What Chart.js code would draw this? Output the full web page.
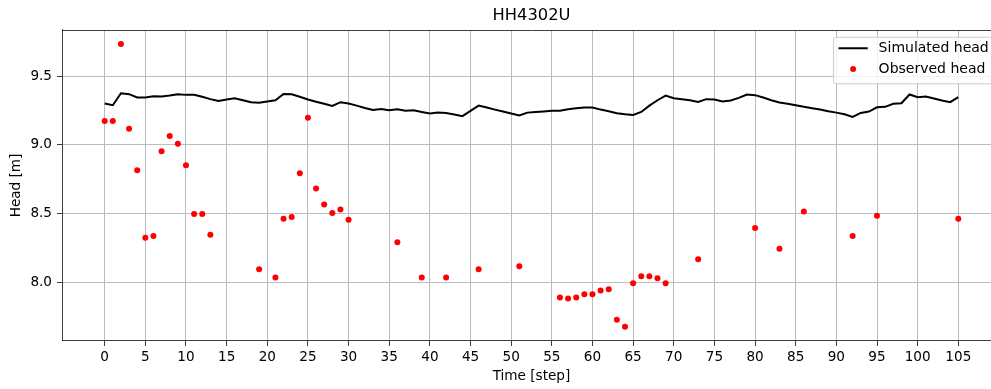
<!DOCTYPE html>
<html>
<head>
<meta charset="utf-8">
<title>HH4302U</title>
<script src="https://cdn.jsdelivr.net/npm/chart.js@4.4.1/dist/chart.umd.min.js"></script>
<style>
  html, body { margin: 0; padding: 0; background: #fff; overflow: hidden; }
  #wrap { width: 991px; height: 389px; overflow: hidden; }
  canvas { display: block; }
</style>
</head>
<body>
<div id="wrap"><canvas id="headChart" width="1005" height="389"></canvas></div>
<script>
// simulated head at every time step
const simSteps = [];
for (let i = 0; i <= 105; i++) simSteps.push(i);
const simHeads = [
  9.301, 9.289, 9.376, 9.369, 9.345, 9.345, 9.354, 9.352, 9.359, 9.369,
  9.364, 9.364, 9.350, 9.333, 9.320, 9.330, 9.340, 9.325, 9.311, 9.306,
  9.316, 9.325, 9.371, 9.369, 9.350, 9.330, 9.314, 9.299, 9.284, 9.311,
  9.301, 9.286, 9.269, 9.255, 9.262, 9.252, 9.260, 9.248, 9.252, 9.240,
  9.228, 9.235, 9.233, 9.221, 9.209, 9.248, 9.286, 9.272, 9.257, 9.243,
  9.228, 9.214, 9.235, 9.240, 9.244, 9.248, 9.248, 9.260, 9.267, 9.272,
  9.272, 9.257, 9.245, 9.231, 9.223, 9.218, 9.240, 9.286, 9.325, 9.359,
  9.340, 9.333, 9.325, 9.313, 9.333, 9.330, 9.316, 9.323, 9.342, 9.367,
  9.362, 9.345, 9.325, 9.308, 9.300, 9.289, 9.278, 9.267, 9.257, 9.245,
  9.235, 9.223, 9.204, 9.233, 9.243, 9.274, 9.277, 9.299, 9.303, 9.367,
  9.347, 9.352, 9.337, 9.323, 9.311, 9.347
];

// observations (only some steps have one)
const obsSteps = [
  0, 1, 2, 3, 4, 5, 6, 7, 8, 9, 10, 11, 12, 13,
  19, 21, 22, 23, 24, 25, 26, 27, 28, 29, 30,
  36, 39, 42, 46, 51,
  56, 57, 58, 59, 60, 61, 62, 63, 64, 65, 66, 67, 68, 69,
  73, 80, 83, 86, 92, 95, 105
];
const obsHeads = [
  9.175, 9.175, 9.733, 9.117, 8.817, 8.325, 8.339, 8.955, 9.066, 9.008, 8.853, 8.499, 8.499, 8.347,
  8.097, 8.036, 8.463, 8.477, 8.795, 9.197, 8.683, 8.567, 8.506, 8.531, 8.456,
  8.293, 8.036, 8.036, 8.097, 8.119,
  7.891, 7.884, 7.891, 7.915, 7.915, 7.942, 7.952, 7.729, 7.678, 7.995, 8.046, 8.046, 8.031, 7.995,
  8.170, 8.397, 8.245, 8.516, 8.339, 8.485, 8.463
];

const xTicks = [0, 5, 10, 15, 20, 25, 30, 35, 40, 45, 50, 55, 60, 65, 70, 75, 80, 85, 90, 95, 100, 105];
const yTicks = [8.0, 8.5, 9.0, 9.5];

const FONT = '"DejaVu Sans", sans-serif';
const FS = 13.6;
const LEGEND_FS = 14;

// padded limits like matplotlib's autoscale margins
const allX = simSteps.concat(obsSteps);
const allY = simHeads.concat(obsHeads);
function padded(vals) {
  const lo = Math.min(...vals), hi = Math.max(...vals);
  const m = (hi - lo) * 0.05;
  return [lo - m, hi + m];
}
const [xMin, xMax] = padded(allX);
const [yMin, yMax] = padded(allY);

// top/right frame and the legend box
const frameAndLegend = {
  id: 'frameAndLegend',
  afterDraw(chart) {
    const { ctx, chartArea: a } = chart;
    ctx.save();
    ctx.strokeStyle = 'rgba(0,0,0,0.75)';
    ctx.lineWidth = 1;
    ctx.beginPath();
    ctx.moveTo(a.left, Math.round(a.top) + 0.5);
    ctx.lineTo(a.right, Math.round(a.top) + 0.5);
    ctx.moveTo(Math.round(a.right) - 0.5, a.top);
    ctx.lineTo(Math.round(a.right) - 0.5, a.bottom);
    ctx.stroke();

    ctx.font = LEGEND_FS + 'px ' + FONT;
    const labels = ['Simulated head', 'Observed head'];
    const textW = Math.max(...labels.map(t => ctx.measureText(t).width));
    const pad = 0.4 * FS, handle = 2.15 * FS, gap = 0.8 * FS;
    const w = pad + handle + gap + textW + pad;
    const h = 46.5;
    const right = a.right - 0.5 * FS;
    const left = right - w;
    const top = a.top + 0.5 * FS;

    ctx.beginPath();
    ctx.roundRect(left + 0.5, top + 0.5, w, h, 2.7);
    ctx.fillStyle = 'rgba(255,255,255,0.8)';
    ctx.fill();
    ctx.strokeStyle = '#cccccc';
    ctx.stroke();

    const row1 = top + 11.5, row2 = top + 32.2;
    const hx = left + pad;
    ctx.strokeStyle = '#000';
    ctx.lineWidth = 2;
    ctx.beginPath();
    ctx.moveTo(hx, row1);
    ctx.lineTo(hx + handle, row1);
    ctx.stroke();

    ctx.fillStyle = 'red';
    ctx.beginPath();
    ctx.arc(hx + handle / 2, row2, 3, 0, Math.PI * 2);
    ctx.fill();

    ctx.fillStyle = '#000';
    ctx.textBaseline = 'middle';
    ctx.textAlign = 'left';
    ctx.fillText(labels[0], hx + handle + gap, row1);
    ctx.fillText(labels[1], hx + handle + gap, row2);
    ctx.restore();
  }
};

new Chart(document.getElementById('headChart').getContext('2d'), {
  type: 'scatter',
  data: {
    datasets: [
      {
        label: 'Simulated head',
        data: simSteps.map((s, i) => ({ x: s, y: simHeads[i] })),
        showLine: true,
        borderColor: '#000',
        borderWidth: 2,
        pointRadius: 0,
        pointHoverRadius: 0,
        tension: 0,
        order: 1
      },
      {
        label: 'Observed head',
        data: obsSteps.map((s, i) => ({ x: s, y: obsHeads[i] })),
        backgroundColor: 'red',
        borderWidth: 0,
        pointRadius: 3,
        order: 2
      }
    ]
  },
  options: {
    responsive: false,
    devicePixelRatio: 1,
    animation: false,
    layout: { padding: 0 },
    plugins: {
      legend: { display: false },
      tooltip: { enabled: false },
      title: {
        display: true,
        text: 'HH4302U',
        fullSize: false,
        color: '#000',
        font: { family: FONT, size: 16.3, weight: 'normal', lineHeight: 1.2 },
        padding: { top: 5.5, bottom: 4.9 }
      }
    },
    scales: {
      x: {
        type: 'linear',
        min: xMin,
        max: xMax,
        afterFit(scale) {
          scale.height = 48;
          scale.paddingLeft = 0;
          scale.paddingRight = 0;
        },
        afterBuildTicks(scale) { scale.ticks = xTicks.map(v => ({ value: v })); },
        grid: {
          color: '#bdbdbd',
          lineWidth: 1,
          drawTicks: true,
          tickLength: 5,
          tickColor: 'rgba(0,0,0,0.75)',
          tickWidth: 1
        },
        border: { display: true, color: 'rgba(0,0,0,0.75)', width: 1 },
        ticks: {
          color: '#000',
          padding: 3,
          maxRotation: 0,
          autoSkip: false,
          font: { family: FONT, size: FS },
          callback: v => String(v)
        },
        title: {
          display: true,
          text: 'Time [step]',
          color: '#000',
          font: { family: FONT, size: FS },
          padding: { top: 0, bottom: 4 }
        }
      },
      y: {
        type: 'linear',
        min: yMin,
        max: yMax,
        afterFit(scale) {
          scale.width = 62;
          scale.paddingTop = 0;
          scale.paddingBottom = 0;
        },
        afterBuildTicks(scale) { scale.ticks = yTicks.map(v => ({ value: v })); },
        grid: {
          color: '#bdbdbd',
          lineWidth: 1,
          drawTicks: true,
          tickLength: 5,
          tickColor: 'rgba(0,0,0,0.75)',
          tickWidth: 1
        },
        border: { display: true, color: 'rgba(0,0,0,0.75)', width: 1 },
        ticks: {
          color: '#000',
          padding: 5,
          autoSkip: false,
          font: { family: FONT, size: FS },
          callback: v => v.toFixed(1)
        },
        title: {
          display: true,
          text: 'Head [m]',
          color: '#000',
          font: { family: FONT, size: FS },
          padding: { top: 8, bottom: 0 }
        }
      }
    }
  },
  plugins: [frameAndLegend]
});
</script>
</body>
</html>
